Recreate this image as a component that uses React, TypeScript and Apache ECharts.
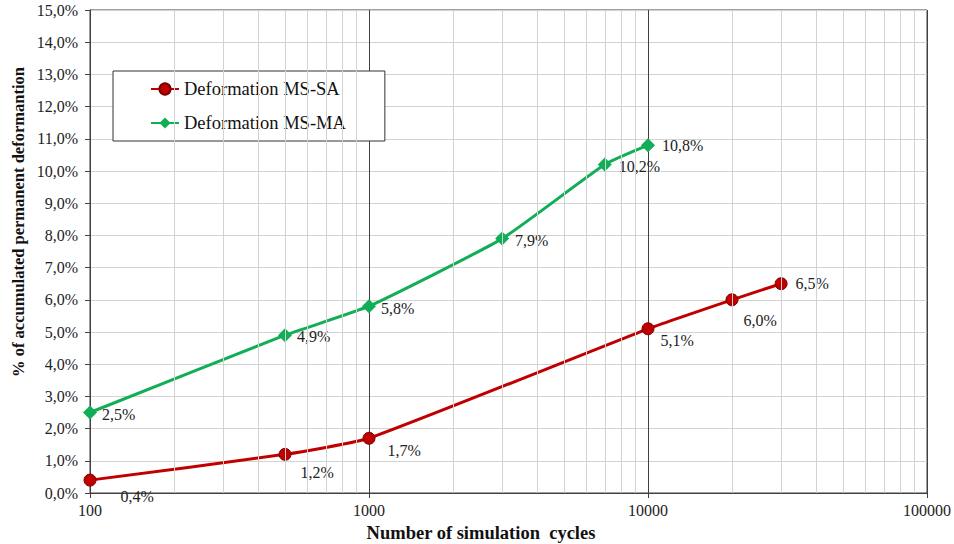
import React, { useEffect, useRef } from "react";
import * as echarts from "echarts";

const cyclesSA = [100, 500, 1000, 10000, 20000, 30000];
const deformSA = [0.4, 1.2, 1.7, 5.1, 6.0, 6.5];
const cyclesMA = [100, 500, 1000, 3000, 7000, 10000];
const deformMA = [2.5, 4.9, 5.8, 7.9, 10.2, 10.8];
const minorCycles = [
  200, 300, 400, 500, 600, 700, 800, 900,
  2000, 3000, 4000, 5000, 6000, 7000, 8000, 9000,
  20000, 30000, 40000, 50000, 60000, 70000, 80000, 90000,
];
const seriesNames = ["Deformation MS-SA", "Deformation MS-MA"];
const xTitle = "Number of simulation  cycles";
const yTitle = "% of accumulated permanent deformantion";

// label offsets (style only)
const offSA = [[30, 16], [15, 18], [18, 12], [12, 12], [11, 21], [14, 0]];
const offMA = [[12, 2], [12, 1], [12, 2], [13, 2], [14, 2], [14, 0]];

const FONT = "'Liberation Serif', 'Times New Roman', 'DejaVu Serif', serif";
const fmtPct = (v: number) => v.toFixed(1).replace(".", ",") + "%";

export default function App() {
  const ref = useRef<HTMLDivElement>(null);
  useEffect(() => {
    if (!ref.current) return;
    const chart = echarts.init(ref.current, undefined, { renderer: "svg" });
    const mk = (xs: number[], ys: number[], offs: number[][], half: number) =>
      xs.map((x, i) => ({
        value: [x, ys[i]],
        label: { offset: [offs[i][0] - half, offs[i][1]] },
      }));
    const labelCommon = {
      show: true,
      position: "right",
      distance: 0,
      align: "left",
      verticalAlign: "middle",
      fontFamily: FONT,
      fontSize: 16,
      color: "#222",
      formatter: (p: any) => fmtPct(p.value[1]),
    };
    chart.setOption({
      animation: false,
      backgroundColor: "#fff",
      textStyle: { fontFamily: FONT },
      grid: {
        left: 90,
        right: 27,
        top: 10,
        bottom: 51,
        show: true,
        borderColor: "#404040",
        borderWidth: 1,
      },
      xAxis: {
        type: "log",
        logBase: 10,
        min: 100,
        max: 100000,
        axisLine: { show: true, lineStyle: { color: "#404040", width: 1 } },
        axisTick: { show: true, inside: false, length: 5, lineStyle: { color: "#404040" } },
        axisLabel: {
          fontFamily: FONT,
          fontSize: 16,
          color: "#222",
          margin: 9,
          formatter: (v: number) => String(Math.round(v)),
        },
        splitLine: { show: true, lineStyle: { color: "#404040", width: 1 } },
      },
      yAxis: {
        type: "value",
        min: 0,
        max: 15,
        interval: 1,
        axisLine: { show: true, lineStyle: { color: "#404040", width: 1 } },
        axisTick: { show: true, inside: false, length: 5, lineStyle: { color: "#404040" } },
        axisLabel: {
          fontFamily: FONT,
          fontSize: 16,
          color: "#222",
          margin: 12,
          formatter: (v: number) => fmtPct(v),
        },
        splitLine: { show: true, lineStyle: { color: "#d2d2d2", width: 1 } },
      },
      legend: {
        show: true,
        orient: "vertical",
        left: 113,
        top: 71,
        data: seriesNames,
        backgroundColor: "#fff",
        borderColor: "#333",
        borderWidth: 1,
        padding: [8, 39, 8, 37],
        itemGap: 14,
        itemWidth: 28,
        itemHeight: 14,
        textStyle: { fontFamily: FONT, fontSize: 18.5, color: "#111", lineHeight: 20 },
      },
      graphic: [
        {
          type: "text",
          x: 18,
          y: 222,
          rotation: Math.PI / 2,
          style: {
            text: yTitle,
            fontFamily: FONT,
            fontSize: 16.5,
            fontWeight: "bold",
            fill: "#111",
            align: "center",
            verticalAlign: "middle",
          },
        },
        {
          type: "text",
          x: 481,
          y: 533,
          style: {
            text: xTitle,
            fontFamily: FONT,
            fontSize: 18.5,
            fontWeight: "bold",
            fill: "#111",
            align: "center",
            verticalAlign: "middle",
          },
        },
      ],
      series: [
        {
          name: "minor",
          type: "line",
          data: [],
          z: 1,
          silent: true,
          markLine: {
            silent: true,
            symbol: "none",
            label: { show: false },
            lineStyle: { color: "#d2d2d2", width: 1, type: "solid" },
            data: minorCycles.map((c) => ({ xAxis: c })),
          },
        },
        {
          name: seriesNames[0],
          type: "line",
          z: 3,
          smooth: 0.15,
          data: mk(cyclesSA, deformSA, offSA, 6),
          symbol: "circle",
          symbolSize: 12,
          lineStyle: { color: "#C00000", width: 3 },
          itemStyle: { color: "#C00000", borderColor: "#7a0000", borderWidth: 1 },
          label: labelCommon,
        },
        {
          name: seriesNames[1],
          type: "line",
          z: 3,
          smooth: 0.15,
          data: mk(cyclesMA, deformMA, offMA, 7),
          symbol: "diamond",
          symbolSize: 14,
          lineStyle: { color: "#12AD57", width: 3 },
          itemStyle: { color: "#12AD57" },
          label: labelCommon,
        },
      ],
    });
    return () => chart.dispose();
  }, []);
  return (
    <div
      ref={ref}
      style={{ position: "fixed", left: 0, top: 0, width: 954, height: 544, background: "#fff" }}
    />
  );
}
